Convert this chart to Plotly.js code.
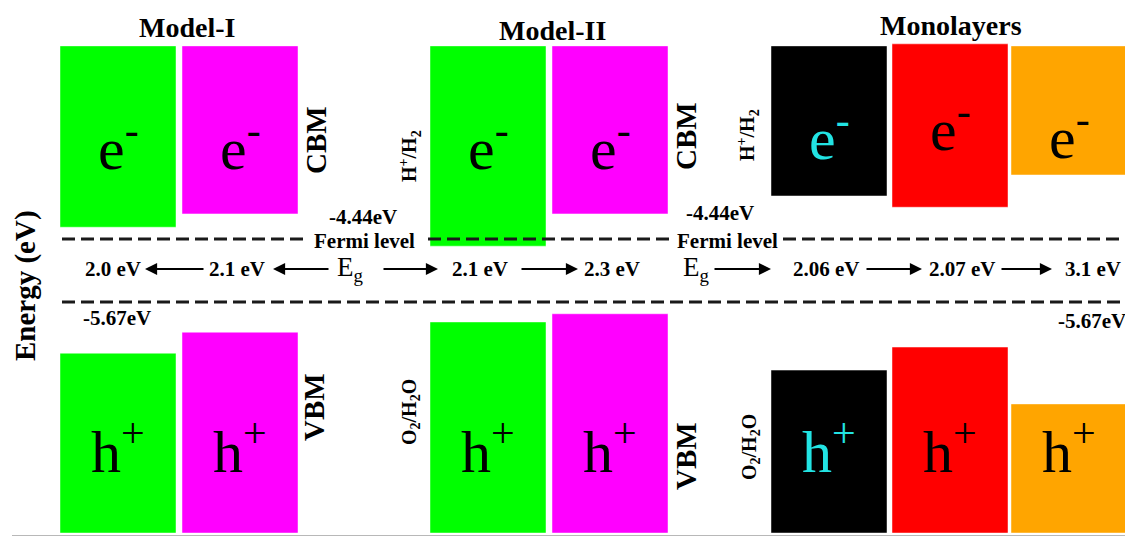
<!DOCTYPE html>
<html>
<head>
<meta charset="utf-8">
<script src="https://cdn.plot.ly/plotly-3.0.1.min.js"></script>
<style>
  html, body { margin: 0; padding: 0; background: #ffffff; }
  #chart { width: 1125px; height: 536px; }
</style>
</head>
<body>
<div id="chart"></div>
<script>
// ---- band-alignment data (energies in eV) ----
const groupNames = ['Model-I', 'Model-II', 'Monolayers'];
const columnGroup = [0, 0, 1, 1, 2, 2, 2];
const bandColors = ['#00ff00', '#ff00ff', '#00ff00', '#ff00ff', '#000000', '#ff0000', '#ffa500'];
const carrierColors = ['#000000', '#000000', '#000000', '#000000', '#22e3e3', '#000000', '#000000'];

// conduction band: lower edge (CBM) and drawn upper extent
const cbmEdge = [-4.21, -3.95, -4.58, -3.95, -3.60, -3.82, -3.19];
const cbmTop = [-0.67, -0.67, -0.67, -0.67, -0.67, -0.63, -0.67];
// valence band: upper edge (VBM) and drawn lower extent
const vbmEdge = [-6.67, -6.26, -6.06, -5.90, -7.00, -6.55, -7.66];
const vbmBottom = [-10.18, -10.18, -10.18, -10.18, -10.18, -10.18, -10.18];

// water redox reference levels
const reductionLevel = -4.44;   // H+/H2
const oxidationLevel = -5.67;   // O2/H2O

// band gaps listed along the E_g row
const modelOneGaps = ['2.0', '2.1'];
const modelTwoGaps = ['2.1', '2.3'];
const monolayerGaps = ['2.06', '2.07', '3.1'];

// ---- layout geometry (pixel columns, 1 x-unit = 1 px) ----
const W = 1125, H = 536;
const plotLeft = 12, plotBottomPx = 535;
const yTop = reductionLevel + 239 / 51.22;
const yBot = reductionLevel - (plotBottomPx - 239) / 51.22;
const columnLeft = [60, 182, 430, 552, 771, 892, 1011];
const columnWidth = 116;
const colCenter = columnLeft.map(l => l + columnWidth / 2);

const py = p => 1 - p / plotBottomPx;          // pixel row -> paper y
const serif = 'Liberation Serif, Times New Roman, serif';

const traces = [];

// conduction-band blocks
traces.push({
  type: 'bar',
  x: colCenter,
  base: cbmEdge,
  y: cbmEdge.map((e, i) => cbmTop[i] - e),
  width: colCenter.map(() => columnWidth),
  marker: { color: bandColors, line: { color: 'rgba(255,255,255,0.45)', width: 1 } },
  hoverinfo: 'skip', showlegend: false
});
// valence-band blocks
traces.push({
  type: 'bar',
  x: colCenter,
  base: vbmBottom,
  y: vbmEdge.map((e, i) => e - vbmBottom[i]),
  width: colCenter.map(() => columnWidth),
  marker: { color: bandColors, line: { color: 'rgba(255,255,255,0.45)', width: 1 } },
  hoverinfo: 'skip', showlegend: false
});

// dashed reference levels
const dashStyle = { color: '#1a1a1a', width: 3, dash: '13px,6px' };
traces.push({
  type: 'scatter', mode: 'lines',
  x: [62, 306, null, 428, 669, null, 783, 1125],
  y: [reductionLevel, reductionLevel, null, reductionLevel, reductionLevel, null, reductionLevel, reductionLevel],
  line: dashStyle, hoverinfo: 'skip', showlegend: false, cliponaxis: false
});
traces.push({
  type: 'scatter', mode: 'lines',
  x: [62, 1125],
  y: [oxidationLevel, oxidationLevel],
  line: dashStyle, hoverinfo: 'skip', showlegend: false, cliponaxis: false
});

const ann = [];
function label(text, x, yPx, size, opts = {}) {
  ann.push(Object.assign({
    text, x, xref: 'x', y: py(yPx), yref: 'paper',
    showarrow: false, xanchor: 'center', yanchor: 'middle',
    font: { family: serif, size, color: '#000' }
  }, opts));
}
const bold = s => '<b>' + s + '</b>';

// group headings
const groupCenters = [187, 552, 951];
const groupTitleY = [27, 30, 25];
groupNames.forEach((g, i) => label(bold(g), groupCenters[i], groupTitleY[i], 28));

// carriers inside the blocks
const eLabelY = [145, 145, 145, 145, 134, 126, 133];
colCenter.forEach((cx, i) => {
  label('e<sup>-</sup>', cx, eLabelY[i], 60, { font: { family: serif, size: 60, color: carrierColors[i] } });
  label('h<sup>+</sup>', cx, 447, 60, { font: { family: serif, size: 60, color: carrierColors[i] } });
});

// side tags (rotated)
const rot = { textangle: -90 };
label(bold('CBM'), 316, 140, 29, rot);
label(bold('VBM'), 314, 407, 29, rot);
label(bold('CBM'), 686, 136, 29, rot);
label(bold('VBM'), 686, 456, 29, rot);
label(bold('H<sup>+</sup>/H<sub>2</sub>'), 410, 156, 20, rot);
label(bold('O<sub>2</sub>/H<sub>2</sub>O'), 410, 412, 20, rot);
label(bold('H<sup>+</sup>/H<sub>2</sub>'), 748, 135, 20, rot);
label(bold('O<sub>2</sub>/H<sub>2</sub>O'), 750, 447, 20, rot);

// level values
const fmt = v => v.toFixed(2) + 'eV';
label(bold(fmt(reductionLevel)), 363, 217, 21);
label(bold(fmt(reductionLevel)), 720, 213, 21);
label(bold('Fermi level'), 364, 241, 21);
label(bold('Fermi level'), 727, 241, 21);
label(bold(fmt(oxidationLevel)), 117, 318, 21);
label(bold(fmt(oxidationLevel)), 1092, 321, 21);

// axis title
label(bold('Energy (eV)'), 25, 286, 29, rot);

// E_g row
const rowY = 269;
const gapLabelX = [113, 237, 480, 612, 826, 962, 1093];
const allGaps = modelOneGaps.concat(modelTwoGaps, monolayerGaps);
allGaps.forEach((g, i) => label(bold(g + ' eV'), gapLabelX[i], rowY, 21));
label('E<sub>g</sub>', 350, rowY, 27);
label('E<sub>g</sub>', 696, rowY, 27);

// arrows: [head, tail] in px columns
const arrows = [[145, 205], [273, 330], [438, 382], [578, 520], [771, 713], [922, 865], [1052, 1000]];
arrows.forEach(([head, tail]) => {
  ann.push({
    text: '', x: head, xref: 'x', y: py(rowY), yref: 'paper',
    ax: tail - head, axref: 'pixel', ay: 0, ayref: 'pixel',
    showarrow: true, arrowhead: 2, arrowsize: 1.1, arrowwidth: 2.2, arrowcolor: '#000', standoff: 0
  });
});

const layout = {
  width: W, height: H,
  margin: { l: plotLeft, r: 0, t: 0, b: H - plotBottomPx, pad: 0 },
  paper_bgcolor: '#ffffff', plot_bgcolor: '#ffffff',
  barmode: 'overlay',
  showlegend: false,
  xaxis: {
    range: [plotLeft, W], showgrid: false, zeroline: false, showticklabels: false, ticks: '',
    showline: true, linecolor: '#b8b8b8', linewidth: 2, mirror: false, fixedrange: true
  },
  yaxis: {
    range: [yBot, yTop], showgrid: false, zeroline: false, showticklabels: false, ticks: '',
    showline: false, fixedrange: true
  },
  annotations: ann
};

Plotly.newPlot('chart', traces, layout, { staticPlot: true, displayModeBar: false });
</script>
</body>
</html>
